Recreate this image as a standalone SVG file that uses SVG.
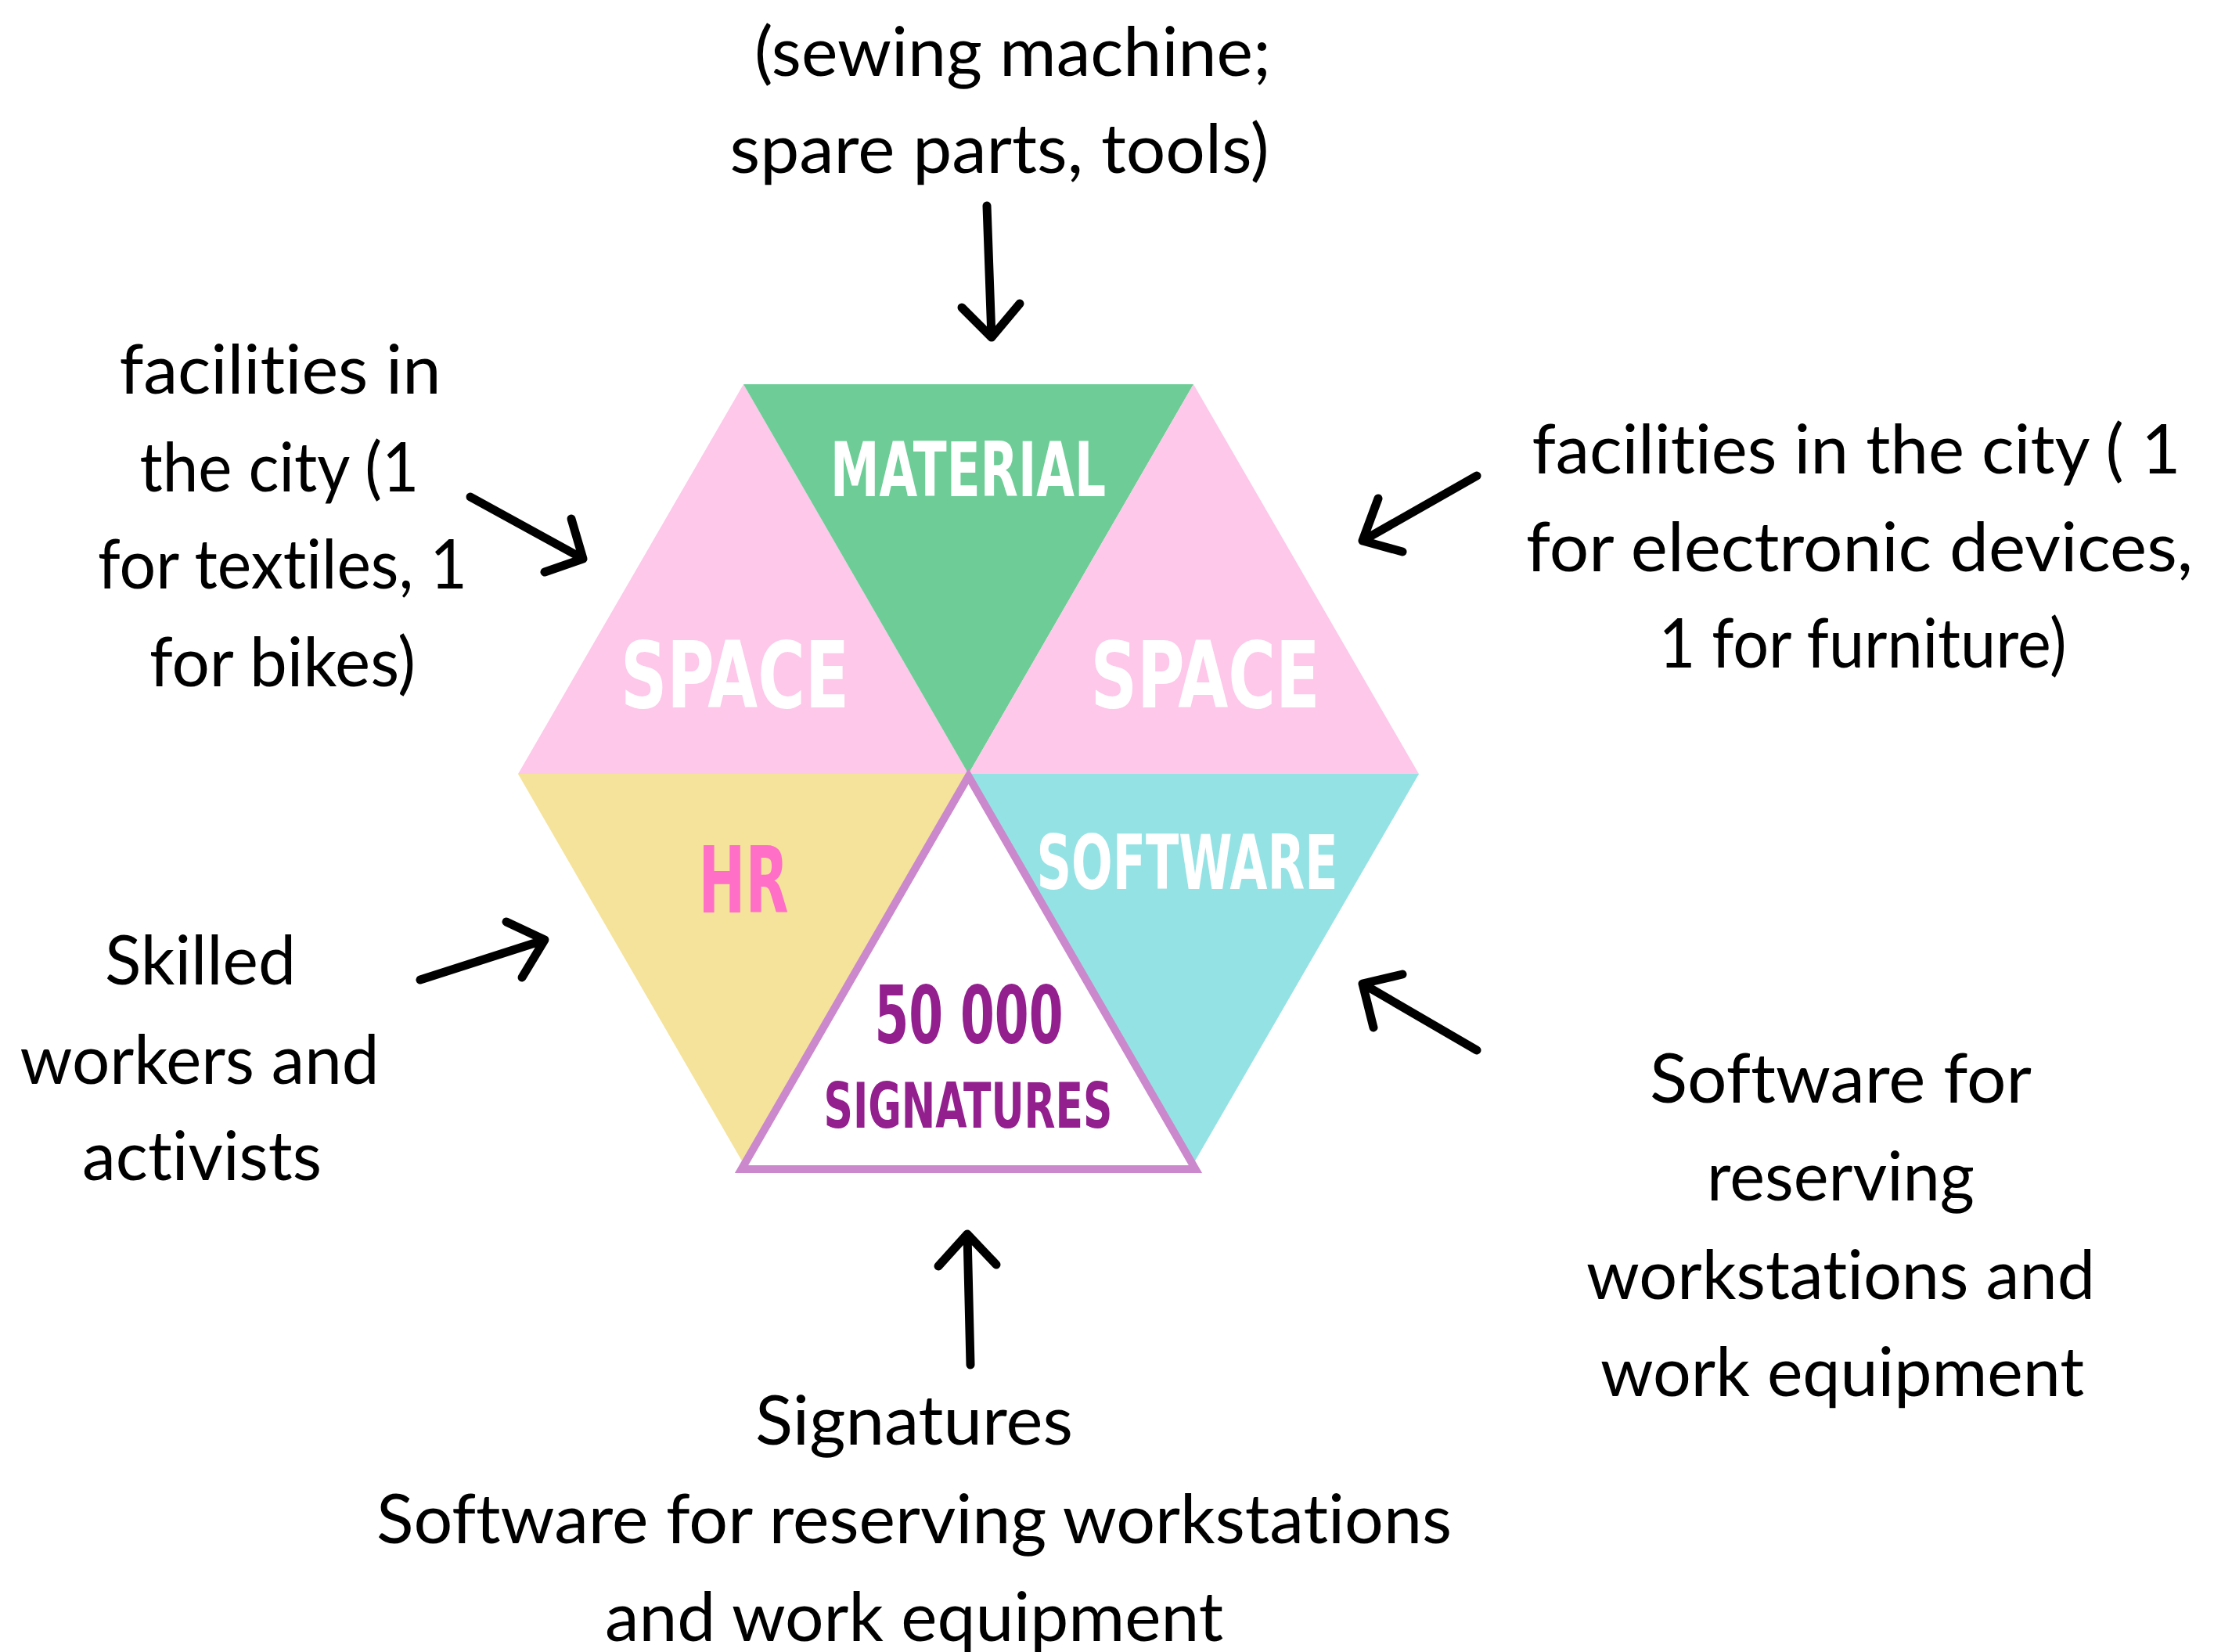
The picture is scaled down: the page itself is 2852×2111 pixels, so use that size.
<svg xmlns="http://www.w3.org/2000/svg" width="2852" height="2111" viewBox="0 0 2852 2111">
<style>
.body{font-family:"Lato","Open Sans","DejaVu Sans",sans-serif;font-size:88px;fill:#000;text-anchor:middle;font-variant-ligatures:none;font-feature-settings:"liga" 0}
.lab{font-family:"Liberation Sans Narrow","DejaVu Sans Condensed","Liberation Sans",sans-serif;font-weight:bold;text-anchor:middle}
.white{fill:#ffffff}
.arrow{fill:none;stroke:#000;stroke-width:11;stroke-linecap:round;stroke-linejoin:round}
</style>
<rect width="2852" height="2111" fill="#ffffff"/>
<g id="hexagon">
  <g id="space-left">
    <polygon points="950,491 1237.5,989 662,989" fill="#FDC8E9"/>
    <text class="lab white" x="939" y="904" font-size="117" textLength="292" lengthAdjust="spacingAndGlyphs">SPACE</text>
  </g>
  <g id="material">
    <polygon points="950,491 1525,491 1237.5,989" fill="#6ECD97"/>
    <text class="lab white" x="1237" y="634" font-size="96" textLength="352" lengthAdjust="spacingAndGlyphs">MATERIAL</text>
  </g>
  <g id="space-right">
    <polygon points="1525,491 1813,989 1237.5,989" fill="#FDC8E9"/>
    <text class="lab white" x="1540" y="904" font-size="117" textLength="293" lengthAdjust="spacingAndGlyphs">SPACE</text>
  </g>
  <g id="hr">
    <polygon points="662,989 1237.5,989 950,1487" fill="#F5E39C"/>
    <text class="lab" x="950" y="1166" font-size="118" fill="#FF6EC7" textLength="115" lengthAdjust="spacingAndGlyphs">HR</text>
  </g>
  <g id="software">
    <polygon points="1237.5,989 1813,989 1525,1487" fill="#95E2E5"/>
    <text class="lab white" x="1517" y="1136" font-size="96" textLength="385" lengthAdjust="spacingAndGlyphs">SOFTWARE</text>
  </g>
  <g id="signatures">
    <polygon points="1237.5,992 1527.5,1494 947.5,1494" fill="#ffffff" stroke="#CC88CC" stroke-width="10"/>
    <text class="lab" x="1238" y="1333" font-size="102" fill="#931F8E" textLength="241" lengthAdjust="spacingAndGlyphs">50 000</text>
    <text class="lab" x="1237" y="1441" font-size="80" fill="#931F8E" textLength="369" lengthAdjust="spacingAndGlyphs">SIGNATURES</text>
  </g>
</g>
<g id="label-top">
  <text class="body" x="1294" y="97" textLength="660" lengthAdjust="spacingAndGlyphs">(sewing machine;</text>
  <text class="body" x="1277" y="221" textLength="689" lengthAdjust="spacingAndGlyphs">spare parts, tools)</text>
</g>
<g id="label-left-top">
  <text class="body" x="358" y="503" textLength="411" lengthAdjust="spacingAndGlyphs">facilities in</text>
  <text class="body" x="357" y="628" textLength="357" lengthAdjust="spacingAndGlyphs">the city (1</text>
  <text class="body" x="361" y="752" textLength="472" lengthAdjust="spacingAndGlyphs">for textiles, 1</text>
  <text class="body" x="361" y="877" textLength="340" lengthAdjust="spacingAndGlyphs">for bikes)</text>
</g>
<g id="label-right-top">
  <text class="body" x="2372" y="605" textLength="829" lengthAdjust="spacingAndGlyphs">facilities in the city ( 1</text>
  <text class="body" x="2376" y="730" textLength="852" lengthAdjust="spacingAndGlyphs">for electronic devices,</text>
  <text class="body" x="2380" y="853" textLength="521" lengthAdjust="spacingAndGlyphs">1 for furniture)</text>
</g>
<g id="label-left-bottom">
  <text class="body" x="256" y="1258" textLength="244" lengthAdjust="spacingAndGlyphs">Skilled</text>
  <text class="body" x="255" y="1385" textLength="459" lengthAdjust="spacingAndGlyphs">workers and</text>
  <text class="body" x="258" y="1508" textLength="306" lengthAdjust="spacingAndGlyphs">activists</text>
</g>
<g id="label-right-bottom">
  <text class="body" x="2352" y="1409" textLength="488" lengthAdjust="spacingAndGlyphs">Software for</text>
  <text class="body" x="2352" y="1534" textLength="342" lengthAdjust="spacingAndGlyphs">reserving</text>
  <text class="body" x="2352" y="1660" textLength="650" lengthAdjust="spacingAndGlyphs">workstations and</text>
  <text class="body" x="2354" y="1784" textLength="618" lengthAdjust="spacingAndGlyphs">work equipment</text>
</g>
<g id="label-bottom">
  <text class="body" x="1168" y="1846" textLength="406" lengthAdjust="spacingAndGlyphs">Signatures</text>
  <text class="body" x="1168" y="1972" textLength="1374" lengthAdjust="spacingAndGlyphs">Software for reserving workstations</text>
  <text class="body" x="1168" y="2097" textLength="790" lengthAdjust="spacingAndGlyphs">and work equipment</text>
</g>
<g id="connectors">
  <path class="arrow" d="M1261,263 L1267,431 M1229,393 L1267,431 L1303,388"/>
  <path class="arrow" d="M601,635 L745,714 M730,663 L745,714 L696,731"/>
  <path class="arrow" d="M1887,608 L1741,691 M1761,637 L1741,691 L1792,705"/>
  <path class="arrow" d="M537,1252 L696,1201 M647,1178 L696,1201 L667,1249"/>
  <path class="arrow" d="M1887,1342 L1741,1257 M1792,1245 L1741,1257 L1755,1313"/>
  <path class="arrow" d="M1240,1744 L1236,1577 M1199,1618 L1236,1577 L1273,1616"/>
</g>
</svg>
